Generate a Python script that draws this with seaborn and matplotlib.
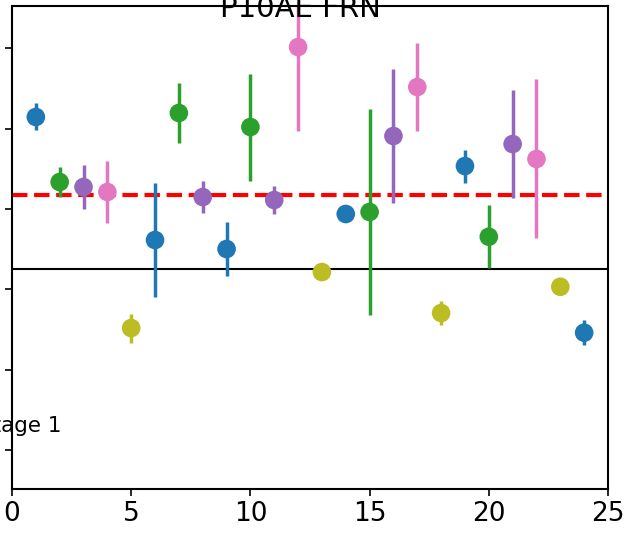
import matplotlib
matplotlib.use("Agg")
import matplotlib.pyplot as plt
import seaborn as sns
import pandas as pd
import numpy as np

sns.set_style("ticks")
plt.rcParams['font.family'] = ['DejaVu Sans']
plt.rcParams['text.color'] = 'black'
plt.rcParams['xtick.color'] = 'black'
plt.rcParams['ytick.color'] = 'black'
plt.rcParams['axes.edgecolor'] = 'black'

# data
x_vals = list(range(1, 25))
y_vals = [2.146, 1.336, 1.274, 1.212, -0.482, 0.614, 2.196, 1.149, 0.502, 2.021,
          1.112, 3.017, 0.215, 0.938, 0.963, 1.909, 2.519, -0.295, 1.535, 0.655,
          1.809, 1.623, 0.032, -0.540]
y_err = [0.168, 0.187, 0.274, 0.392, 0.181, 0.710, 0.374, 0.199, 0.336, 0.666,
         0.174, 1.046, 0.0, 0.0, 1.283, 0.834, 0.548, 0.149, 0.205, 0.392,
         0.672, 0.990, 0.0, 0.156]
groups = ['a', 'b', 'c', 'd', 'e', 'a', 'b', 'c', 'a', 'b', 'c', 'd', 'e', 'a',
          'b', 'c', 'd', 'e', 'a', 'b', 'c', 'd', 'e', 'a']
palette = {'a': '#1f77b4', 'b': '#2ca02c', 'c': '#9467bd', 'd': '#e377c2', 'e': '#bcbd22'}
ref_line = 1.174
zero_line = 0.249
title = "P10AE FRN"
note = "Stage 1"
x_ticks = [0, 5, 10, 15, 20, 25]
y_ticks = [-2, -1, 0, 1, 2, 3]

df = pd.DataFrame({'x': x_vals, 'y': y_vals, 'err': y_err, 'g': groups})

fig = plt.figure(figsize=(6.28, 5.34), dpi=100)
ax = fig.add_axes([12/628, (534-489.3)/534, 596/628, 483.3/534])

for _, r in df.iterrows():
    if r['err'] > 0:
        ax.errorbar(r['x'], r['y'], yerr=r['err'], fmt='none',
                    ecolor=palette[r['g']], elinewidth=2.5, capsize=0, zorder=2)

sns.scatterplot(data=df, x='x', y='y', hue='g', palette=palette, s=180,
                edgecolor=None, linewidth=0, legend=False, ax=ax, zorder=3)

ax.axhline(ref_line, color='red', linestyle='--', linewidth=3, zorder=1)
ax.axhline(zero_line, color='black', linewidth=1.5, zorder=1)

ax.set_xlim(0, 25)
ax.set_ylim(-2.49, 3.528)
ax.set_xticks(x_ticks)
ax.set_yticks(y_ticks)
ax.set_xlabel('')
ax.set_ylabel('')
ax.tick_params(axis='both', direction='out', length=5, width=1.2, labelsize=19,
               color='black', labelcolor='black')
for s in ax.spines.values():
    s.set_linewidth(1.5)
    s.set_color('black')
    s.set_visible(True)

fig.text(300/628, (534-17)/534, title, ha='center', va='baseline', fontsize=21, color='black')
fig.text(61/628, (534-432)/534, note, ha='right', va='baseline', fontsize=15.5, color='black')

fig.savefig('out.png', dpi=100)
